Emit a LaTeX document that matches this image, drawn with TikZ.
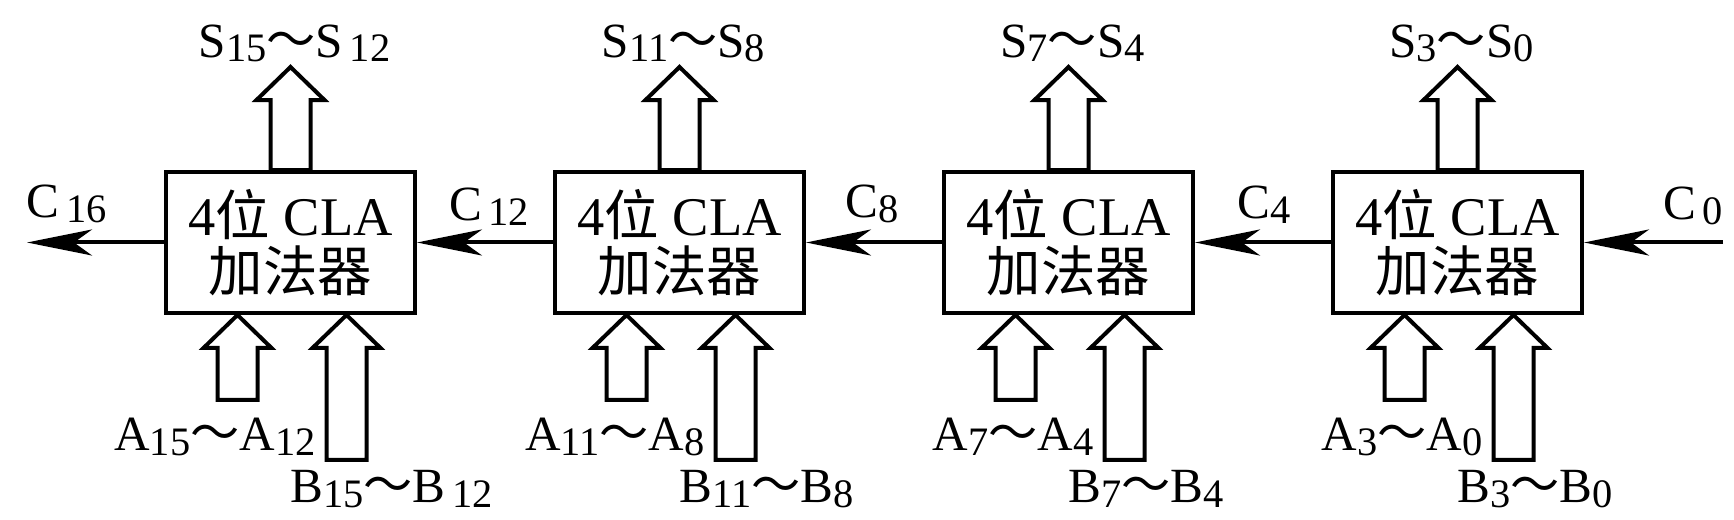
\documentclass[tikz,border=0pt]{standalone}
\usepackage{fontspec}
\setmainfont{Liberation Serif}
\newfontfamily\cjk{Noto Sans CJK SC}
\usetikzlibrary{arrows.meta,calc}
\newcommand{\zh}[1]{{\cjk #1}}
\newcommand{\til}{{\cjk ～}}
\newcommand{\lo}[1]{\raisebox{-0.1em}{\fontsize{23}{23}\selectfont #1}}
% hollow bus arrow pointing up: tip, shaft length
\newcommand{\busarrow}[2]{\draw[bus] #1 -- ++(34,33) -- ++(-14,0) -- ++(0,#2) -- ++(-40,0) -- ++(0,-#2) -- ++(-14,0) -- cycle;}

\begin{document}
\begin{tikzpicture}[x=0.02cm,y=-0.02cm,line width=0.08cm,
      every node/.style={font=\fontsize{28}{28}\selectfont,inner sep=0pt},
      cla/.style={draw,minimum width=4.98cm,minimum height=2.82cm,align=center,font=\fontsize{31}{32}\selectfont},
      carry/.style={-{Stealth[length=1.3cm,width=0.52cm,inset=0.36cm]}},
      bus/.style={fill=white,line join=miter}]
    \useasboundingbox (0,0) rectangle (1734,520);
    \foreach \i/\x in {1/290.5,2/679.5,3/1068.5,4/1457.5}
      \node[cla] (b\i) at (\x,242.5) {4\zh{位} CLA\\\zh{加法器}};
    \coordinate (c16) at (27,242.5);
    \coordinate (c0)  at (1723,242.5);
    \foreach \a/\b in {b1/c16,b2/b1,b3/b2,b4/b3,c0/b4}{\draw[carry](\a)--(\b);}
    % Carry labels
    \node[anchor=base west] (lc16) at (25,218)   {C\lo{\,16}};
    \node[anchor=base]      (lc12) at (489,221)  {C\lo{\,12}};
    \node[anchor=base]      (lc8)  at (872,218)  {C\lo{8}};
    \node[anchor=base]      (lc4)  at (1264,219) {C\lo{4}};
    \node[anchor=base east] (lc0)  at (1725,220) {C\lo{\,0}};
    % Buses
    \foreach \i/\h/\l/\g in {1/15/12/\,,2/11/8/,3/7/4/,4/3/0/}{
      \busarrow{($(b\i.north)+(0,-103)$)}{70}
      \busarrow{($(b\i.south)+(-53,0)$)}{52}
      \busarrow{($(b\i.south)+(56,0)$)}{112}
      \node[anchor=base]      (s\i) at ($(b\i.north)+(4,-113)$) {S\lo{\h}\til S\lo{\g\l}};
      \node[anchor=base east] (a\i) at ($(b\i.south)+(27,136)$) {A\lo{\h}\til A\lo{\l}};
      \node[anchor=base west] (bb\i) at ($(b\i.south)+(-2,188)$) {B\lo{\h}\til B\lo{\g\l}};
    }
  \end{tikzpicture}
\end{document}
